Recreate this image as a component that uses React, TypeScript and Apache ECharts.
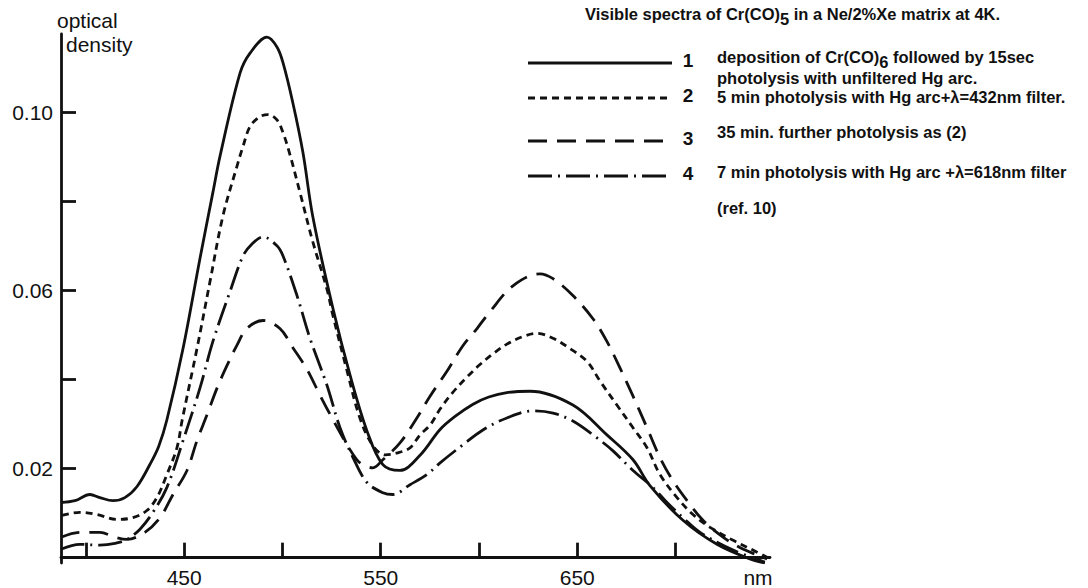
import React, { useEffect, useRef } from "react";
import * as echarts from "echarts";

// ---- data (wavelength in nm, optical density) ----
const wl1 = [387.3, 394.4, 402.0, 407.1, 413.7, 419.8, 426.0, 432.6, 437.0, 441.2, 449.4, 458.0, 464.6, 468.2, 478.4, 483.5, 492.1, 497.2, 500.3, 505.3, 510.4, 515.5, 525.7, 534.4, 543.0, 551.1, 559.8, 570.0, 580.2, 588.0, 597.0, 605.0, 614.2, 626.0, 647.8, 665.1, 678.4, 687.0, 703.8, 721.1, 737.9, 745.5];
const od1 = [0.0124, 0.0128, 0.0142, 0.0135, 0.0128, 0.0135, 0.0160, 0.0210, 0.0250, 0.0310, 0.0470, 0.0672, 0.0821, 0.0902, 0.1089, 0.1134, 0.1170, 0.1148, 0.1112, 0.1022, 0.0911, 0.0765, 0.0560, 0.0410, 0.0285, 0.0209, 0.0196, 0.0230, 0.0288, 0.0318, 0.0345, 0.0361, 0.0371, 0.0374, 0.0343, 0.0276, 0.0220, 0.0162, 0.0084, 0.0030, -0.0003, -0.0012];

const wl2 = [387.8, 396.9, 405.6, 415.8, 423.9, 431.0, 436.1, 441.2, 446.3, 449.0, 456.5, 463.1, 469.7, 476.8, 479.9, 483.5, 488.5, 492.6, 497.2, 500.3, 503.8, 508.9, 515.5, 522.6, 525.7, 532.8, 539.4, 546.1, 552.2, 557.3, 564.9, 570.0, 575.1, 580.2, 586.8, 593.9, 600.5, 607.1, 614.2, 622.4, 629.5, 637.7, 646.3, 655.0, 661.6, 670.2, 678.4, 685.5, 692.1, 700.8, 708.9, 717.6, 729.3, 739.4, 746.6];
const od2 = [0.0095, 0.0102, 0.0097, 0.0086, 0.0090, 0.0106, 0.0135, 0.0187, 0.0247, 0.0310, 0.0470, 0.0620, 0.0768, 0.0879, 0.0924, 0.0969, 0.0991, 0.0996, 0.0984, 0.0955, 0.0906, 0.0821, 0.0709, 0.0604, 0.0544, 0.0421, 0.0314, 0.0251, 0.0231, 0.0234, 0.0247, 0.0276, 0.0298, 0.0334, 0.0372, 0.0406, 0.0434, 0.0458, 0.0480, 0.0497, 0.0504, 0.0493, 0.0470, 0.0441, 0.0397, 0.0343, 0.0292, 0.0247, 0.0187, 0.0135, 0.0097, 0.0068, 0.0039, 0.0017, 0.0001];

const wl3 = [387.3, 396.9, 407.1, 414.8, 420.9, 430.0, 437.7, 444.3, 451.4, 456.5, 461.6, 466.7, 471.8, 476.8, 481.9, 490.1, 498.7, 505.3, 512.5, 519.1, 525.7, 532.8, 537.9, 541.0, 546.0, 551.1, 559.8, 568.4, 575.1, 583.7, 591.9, 599.0, 605.6, 617.3, 631.0, 637.7, 647.8, 658.0, 665.1, 671.8, 678.4, 685.5, 692.1, 698.7, 705.9, 714.0, 724.2, 732.8, 741.5, 746.6];
const od3 = [0.0046, 0.0057, 0.0057, 0.0046, 0.0041, 0.0057, 0.0090, 0.0142, 0.0196, 0.0263, 0.0321, 0.0381, 0.0432, 0.0477, 0.0515, 0.0533, 0.0515, 0.0472, 0.0423, 0.0365, 0.0310, 0.0254, 0.0220, 0.0209, 0.0202, 0.0220, 0.0258, 0.0314, 0.0363, 0.0419, 0.0477, 0.0515, 0.0553, 0.0611, 0.0638, 0.0627, 0.0589, 0.0537, 0.0486, 0.0426, 0.0363, 0.0292, 0.0225, 0.0173, 0.0128, 0.0084, 0.0046, 0.0023, 0.0006, -0.0003];

const wl4 = [387.3, 396.9, 407.1, 414.8, 420.9, 427.5, 434.1, 441.2, 449.4, 458.0, 464.6, 473.3, 479.9, 484.5, 490.1, 497.2, 500.3, 507.4, 514.0, 522.6, 529.3, 535.9, 543.0, 551.1, 556.2, 564.9, 573.5, 580.2, 591.9, 602.0, 614.2, 627.5, 637.7, 647.8, 660.1, 668.2, 678.4, 688.5, 695.7, 703.8, 712.5, 729.3, 745.5];
const od4 = [0.0019, 0.0030, 0.0028, 0.0032, 0.0041, 0.0064, 0.0102, 0.0158, 0.0263, 0.0381, 0.0486, 0.0598, 0.0678, 0.0705, 0.0721, 0.0701, 0.0678, 0.0589, 0.0493, 0.0388, 0.0292, 0.0225, 0.0169, 0.0146, 0.0142, 0.0164, 0.0187, 0.0213, 0.0254, 0.0287, 0.0314, 0.0330, 0.0325, 0.0307, 0.0269, 0.0240, 0.0196, 0.0158, 0.0124, 0.0090, 0.0057, 0.0017, -0.0010];

// ---- axes ----
const X_MIN = 387.3;
const X_MAX = 748.1;
const Y_MIN = -0.0012;
const Y_MAX = 0.1177;
const X_TICKS = [400, 450, 500, 550, 600, 650, 700];
const X_LABELS = [450, 550, 650];
const X_UNIT = "nm";
const X_UNIT_POS = 742;
const Y_TICKS = [0.02, 0.04, 0.06, 0.08, 0.1];
const Y_LABELS = [0.02, 0.06, 0.1];
const Y_NAME = ["optical", "density"];

// ---- texts ----
const TITLE = "{a|Visible spectra of Cr(CO)}{s|5}{a| in a Ne/2%Xe matrix at 4K.}";
const LEGEND_NUMS = ["1", "2", "3", "4"];
const LEGEND_TEXTS = [
  "{a|deposition of Cr(CO)}{s|6}{a| followed by 15sec}",
  "{a|5 min photolysis with Hg arc+λ=432nm filter.}",
  "{a|35 min. further photolysis as (2)}",
  "{a|7 min photolysis with Hg arc +λ=618nm filter}",
];
const LEGEND_TEXT_2ND = "photolysis with unfiltered Hg arc.";
const REF_TEXT = "(ref. 10)";

const INK = "#111";
const FONT = "'Liberation Sans', Arial, sans-serif";
const DASHES: any[] = ["solid", [7, 5], [19, 10], [24, 6, 2, 6]];

const zip = (xs: number[], ys: number[]) => xs.map((x, i) => [x, ys[i]]).filter((p) => p[1] !== undefined);

export default function App() {
  const ref = useRef<HTMLDivElement>(null);
  useEffect(() => {
    document.body.style.margin = "0";
    const chart = echarts.init(ref.current!, null, { renderer: "svg" });
    const seriesData = [zip(wl1, od1), zip(wl2, od2), zip(wl3, od3), zip(wl4, od4)];

    const rich = {
      a: { fontSize: 16.5, fontWeight: "bold", fontFamily: FONT, color: INK, lineHeight: 17, verticalAlign: "middle" },
      s: { fontSize: 16.5, fontWeight: "bold", fontFamily: FONT, color: INK, lineHeight: 17, padding: [9, 0, 0, 0], verticalAlign: "middle" },
    };

    const legendY = [63, 98, 141, 176];
    const legendTextY = [57, 97, 132, 172];
    const graphic: any[] = [];
    graphic.push({
      type: "text",
      x: 585,
      y: 14,
      style: { text: TITLE, rich, fill: INK, verticalAlign: "middle", align: "left" },
    });
    LEGEND_NUMS.forEach((n, i) => {
      const dash = DASHES[i];
      graphic.push({
        type: "line",
        shape: { x1: 528, y1: legendY[i], x2: 672, y2: legendY[i] },
        style: { stroke: INK, lineWidth: 2.8, lineDash: dash === "solid" ? null : dash },
      });
      graphic.push({
        type: "text",
        x: 688,
        y: legendY[i] - 3,
        style: { text: n, fill: INK, fontSize: 19, fontFamily: FONT, fontWeight: "bold", align: "center", verticalAlign: "middle" },
      });
      graphic.push({
        type: "text",
        x: 717,
        y: legendTextY[i],
        style: { text: LEGEND_TEXTS[i], rich, fill: INK, align: "left", verticalAlign: "middle" },
      });
    });
    graphic.push({
      type: "text",
      x: 717,
      y: 78,
      style: { text: LEGEND_TEXT_2ND, fill: INK, fontSize: 16.5, fontWeight: "bold", fontFamily: FONT, align: "left", verticalAlign: "middle" },
    });
    graphic.push({
      type: "text",
      x: 717,
      y: 208,
      style: { text: REF_TEXT, fill: INK, fontSize: 16.5, fontWeight: "bold", fontFamily: FONT, align: "left", verticalAlign: "middle" },
    });
    graphic.push({
      type: "text",
      x: 57,
      y: 20,
      style: { text: Y_NAME[0], fill: INK, fontSize: 21, fontFamily: FONT, align: "left", verticalAlign: "middle" },
    });
    graphic.push({
      type: "text",
      x: 66,
      y: 44,
      style: { text: Y_NAME[1], fill: INK, fontSize: 21, fontFamily: FONT, align: "left", verticalAlign: "middle" },
    });

    chart.setOption({
      animation: false,
      backgroundColor: "#fff",
      grid: { left: 61, right: 318, top: 34, bottom: 22, containLabel: false },
      xAxis: {
        type: "value",
        min: X_MIN,
        max: X_MAX,
        axisLine: { show: true, lineStyle: { color: INK, width: 2.8 } },
        axisTick: { show: true, inside: true, length: 15, lineStyle: { color: INK, width: 2.8 }, customValues: X_TICKS },
        axisLabel: {
          customValues: [...X_LABELS, X_UNIT_POS],
          formatter: (v: number) => (v === X_UNIT_POS ? X_UNIT : String(v)),
          color: INK,
          fontSize: 21,
          fontFamily: FONT,
          margin: 4,
        },
        splitLine: { show: false },
      },
      yAxis: {
        type: "value",
        min: Y_MIN,
        max: Y_MAX,
        axisLine: { show: true, lineStyle: { color: INK, width: 2.8 } },
        axisTick: { show: true, inside: true, length: 15, lineStyle: { color: INK, width: 2.8 }, customValues: Y_TICKS },
        axisLabel: {
          customValues: Y_LABELS,
          formatter: (v: number) => v.toFixed(2),
          color: INK,
          fontSize: 21,
          fontFamily: FONT,
          margin: 8,
        },
        splitLine: { show: false },
      },
      series: seriesData.map((d, i) => ({
        type: "line",
        data: d,
        smooth: 0.35,
        symbol: "none",
        lineStyle: { color: INK, width: 2.8, type: DASHES[i] },
        z: 3,
      })),
      graphic,
    });
    return () => chart.dispose();
  }, []);
  return <div ref={ref} style={{ width: 1088, height: 588 }} />;
}
